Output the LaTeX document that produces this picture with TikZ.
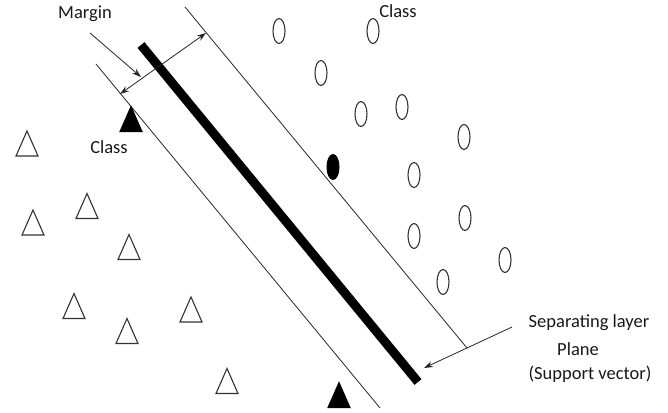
\documentclass[tikz,border=0pt]{standalone}
\usepackage{fontspec}
\setmainfont{Carlito}
\usetikzlibrary{arrows.meta}
\begin{document}
\begin{tikzpicture}[x=1pt,y=-1pt,
  thinline/.style={line width=0.8pt, draw=black!85},
  hyper/.style={line width=9pt, draw=black, line cap=butt},
  pointer/.style={line width=0.8pt, draw=black!85, -{Stealth[length=9pt,width=6pt]}},
  dbl/.style={line width=0.8pt, draw=black!85, {Stealth[length=9pt,width=6pt]}-{Stealth[length=9pt,width=6pt]}},
  lbl/.style={inner sep=0pt, anchor=base, text=black!90, font=\fontsize{18.5}{22}\selectfont},
  hollow/.style={draw=black!80, line width=1.1pt, fill=white},
  solid/.style={draw=black, line width=1pt, fill=black}]
\useasboundingbox (0,0) rectangle (668,412);
\newcommand{\mytri}[3]{\draw[#3] (#1-11,#2+12.5) -- (#1,#2-12.5) -- (#1+11,#2+12.5) -- cycle;}
\newcommand{\myoval}[3]{\draw[#3] (#1,#2) ellipse [x radius=6, y radius=12.5];}

% separating line and margins
\coordinate (hA) at (141,45);
\coordinate (hB) at (418,382);
\coordinate (uA) at (185,7);
\coordinate (uB) at (467,348);
\coordinate (lA) at (96,64);
\coordinate (lB) at (380,408);
\draw[hyper] (hA) -- (hB);
\draw[thinline] (uA) -- (uB);
\draw[thinline] (lA) -- (lB);

% margin arrow
\coordinate (m1) at (120,94);
\coordinate (m2) at (206,33);
\draw[dbl] (m1) -- (m2);

% labels
\node[lbl] (margin) at (85,19) {Margin};
\node[lbl] (classO) at (398,18) {Class};
\node[lbl] (classT) at (109,153) {Class};
\node[lbl] (sep) at (589,327) {Separating layer};
\node[lbl] (plane) at (578,355) {Plane};
\node[lbl] (sv) at (590,379) {(Support vector)};

% pointers
\coordinate (mp0) at (90,33);
\coordinate (mp1) at (141,77);
\draw[pointer] (mp0) -- (mp1);
\coordinate (sp0) at (512,327);
\coordinate (sp1) at (424,368);
\draw[pointer] (sp0) -- (sp1);

% triangles
\mytri{131}{119}{solid}
\mytri{339}{395}{solid}
\mytri{27}{143.5}{hollow}
\mytri{87}{206}{hollow}
\mytri{33}{222.5}{hollow}
\mytri{129}{247}{hollow}
\mytri{74}{306}{hollow}
\mytri{191}{309.5}{hollow}
\mytri{127}{331}{hollow}
\mytri{227}{381}{hollow}

% ovals
\myoval{279}{31}{hollow}
\myoval{373}{31}{hollow}
\myoval{321}{73}{hollow}
\myoval{361}{114}{hollow}
\myoval{402}{107}{hollow}
\myoval{464}{137}{hollow}
\myoval{414}{175}{hollow}
\myoval{465}{218}{hollow}
\myoval{414}{236}{hollow}
\myoval{505}{260}{hollow}
\myoval{443}{282}{hollow}
\myoval{333}{167}{solid}
\end{tikzpicture}
\end{document}
